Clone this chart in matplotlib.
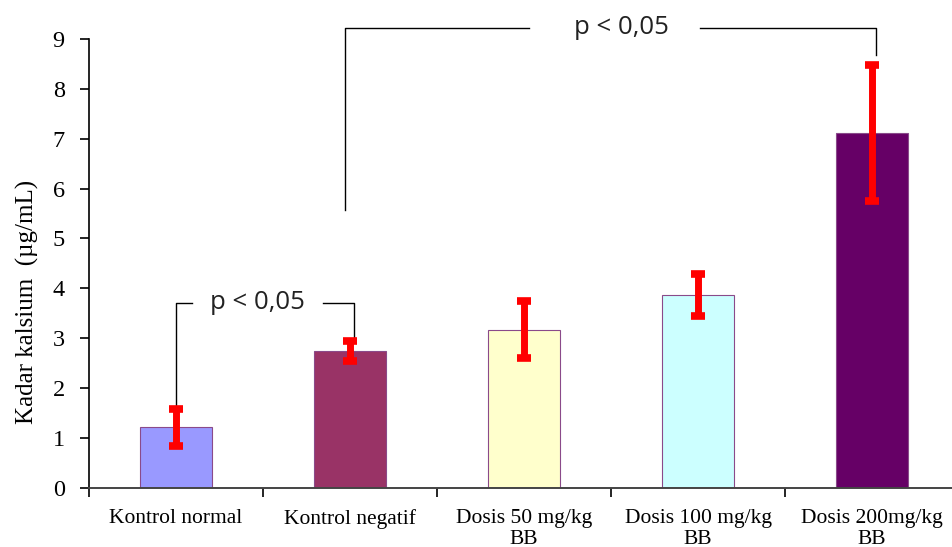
import numpy as np
import matplotlib.pyplot as plt
from matplotlib.ticker import FixedLocator

# data
kategori = ['Kontrol normal', 'Kontrol negatif', 'Dosis 50 mg/kg\nBB',
            'Dosis 100 mg/kg\nBB', 'Dosis 200mg/kg\nBB']
kadar = [1.22, 2.75, 3.17, 3.87, 7.11]
sd = [0.37, 0.20, 0.57, 0.42, 1.36]
warna = ['#9999FF', '#993366', '#FFFFCC', '#CCFFFF', '#660066']

fig = plt.figure(figsize=(9.52, 5.47), dpi=100)
ax = fig.add_axes([0.0935, 0.108, 0.914, 0.821])

x = np.arange(len(kategori))
ax.bar(x, kadar, width=0.41, color=warna, edgecolor='#8a4a8a', linewidth=0.8, zorder=2)
ax.errorbar(x, kadar, yerr=sd, fmt='none', ecolor='#FF0000', elinewidth=5,
            capsize=4.8, capthick=5.5, zorder=3)

ax.set_xlim(-0.5, 4.5)
ax.set_ylim(0, 9)
ax.set_yticks(range(10))
ax.set_xticks(x)
ax.set_xticklabels(kategori, fontfamily='Liberation Serif', fontsize=15.5, linespacing=1.15)
ax.xaxis.set_minor_locator(FixedLocator([-0.5, 0.5, 1.5, 2.5, 3.5]))
ax.tick_params(axis='x', which='major', length=0, pad=15)
ax.tick_params(axis='x', which='minor', length=6.5, width=1.2, direction='out')
ax.tick_params(axis='y', length=6.5, width=1.2, direction='out', pad=11)
for lbl in ax.get_yticklabels():
    lbl.set_fontfamily('Liberation Serif')
    lbl.set_fontsize(17.5)
ax.set_ylabel('Kadar kalsium  (µg/mL)', fontfamily='Liberation Serif', fontsize=18)
ax.yaxis.set_label_coords(-0.0575, 0.414)

for s in ['top', 'right']:
    ax.spines[s].set_visible(False)
ax.spines['left'].set_linewidth(1.2)
ax.spines['bottom'].set_linewidth(1.4)
ax.spines['bottom'].set_color('#444444')

# bracket 1: Kontrol normal vs Kontrol negatif
y1 = 3.71
ax.plot([0, 0, 0.09], [1.60, y1, y1], color='black', lw=1, clip_on=False)
ax.plot([0.845, 1.02, 1.02], [y1, y1, 2.97], color='black', lw=1, clip_on=False)
ax.text(0.47, y1, 'p < 0,05', ha='center', va='center', fontsize=18.5,
        fontfamily='Open Sans', color='#222222')

# bracket 2: Kontrol negatif vs Dosis 200
y2 = 9.22
ax.plot([0.97, 0.97, 2.03], [5.57, y2, y2], color='black', lw=1, clip_on=False)
ax.plot([3.01, 4.02, 4.02], [y2, y2, 8.68], color='black', lw=1, clip_on=False)
ax.text(2.56, y2, 'p < 0,05', ha='center', va='center', fontsize=18.5,
        fontfamily='Open Sans', color='#222222')

plt.savefig('out.png', dpi=100)
